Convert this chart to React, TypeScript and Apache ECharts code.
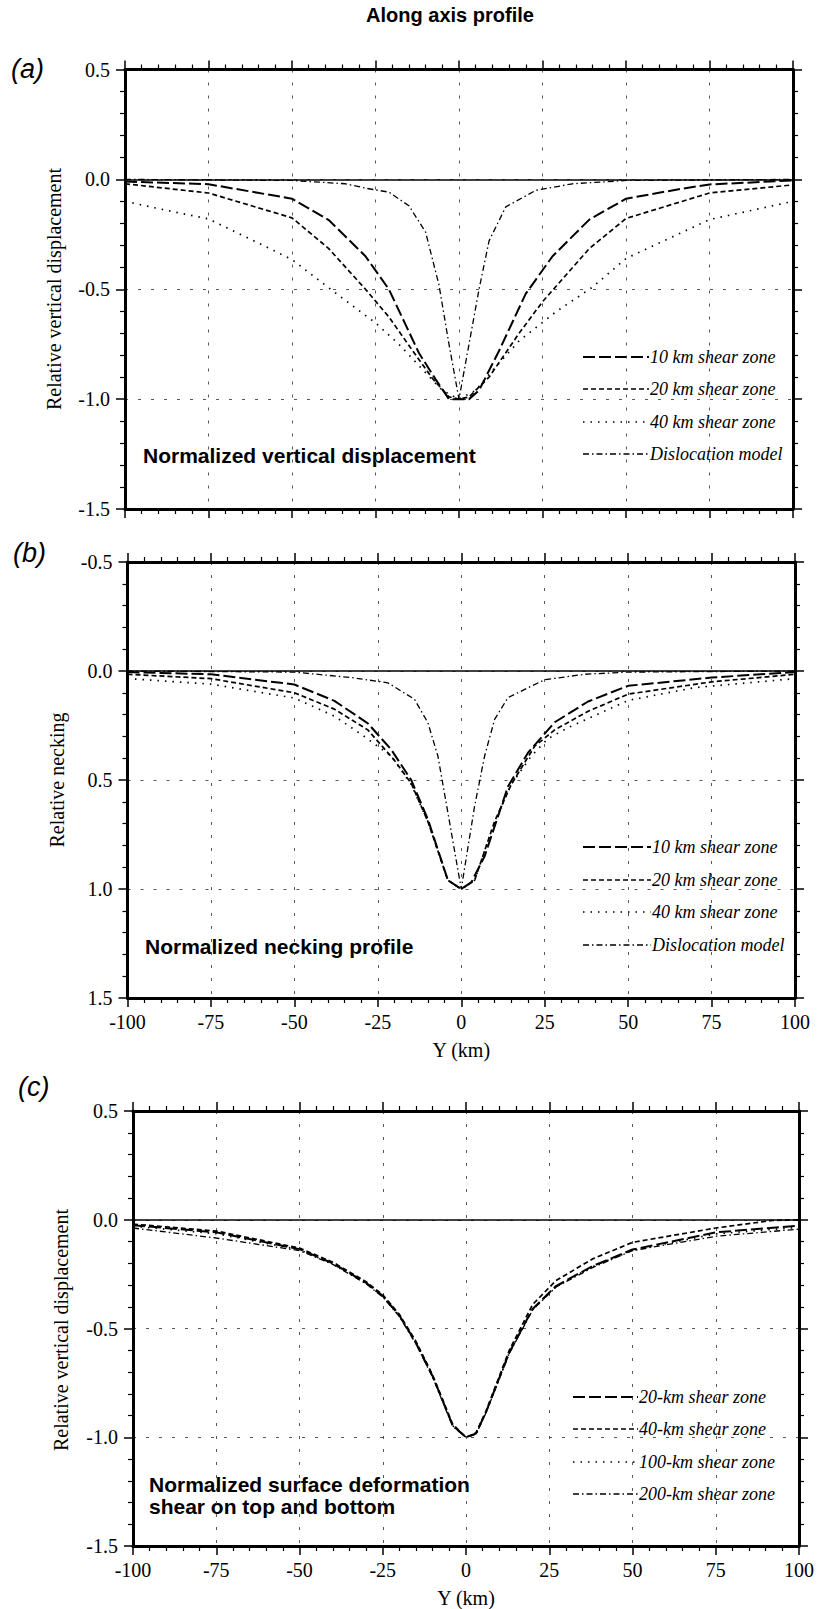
import React, { useEffect, useRef } from 'react';
import * as echarts from 'echarts';

const SERIF = '"Liberation Serif", "Times New Roman", serif';
const SANS = '"Liberation Sans", Arial, sans-serif';

const mainTitle = 'Along axis profile';
const panelLabels = ['(a)', '(b)', '(c)'];
const yNames = ['Relative vertical displacement', 'Relative necking', 'Relative vertical displacement'];
const xName = 'Y (km)';
const innerA = ['Normalized vertical displacement'];
const innerB = ['Normalized necking profile'];
const innerC = ['Normalized surface deformation', 'shear on top and bottom'];

const legendAB = ['10 km shear zone', '20 km shear zone', '40 km shear zone', 'Dislocation model'];
const legendC = ['20-km shear zone', '40-km shear zone', '100-km shear zone', '200-km shear zone'];

// Panel (a): normalized vertical displacement
const a10 = [[-100, -0.01], [-75, -0.022], [-50, -0.088], [-39, -0.185], [-28, -0.35], [-21, -0.5], [-12, -0.79], [-7, -0.91], [-3, -1.0], [3, -1.0], [6, -0.96], [12, -0.78], [20, -0.52], [28, -0.35], [39, -0.183], [50, -0.088], [65, -0.047], [75, -0.023], [100, -0.005]];
const a20 = [[-100, -0.02], [-75, -0.062], [-50, -0.175], [-39, -0.315], [-28, -0.5], [-21, -0.626], [-12, -0.82], [-8, -0.905], [-3, -0.99], [0, -1.0], [3, -0.99], [9, -0.9], [18, -0.7], [25, -0.557], [39, -0.315], [50, -0.178], [75, -0.062], [100, -0.025]];
const a40 = [[-100, -0.1], [-90, -0.133], [-75, -0.18], [-60, -0.29], [-50, -0.365], [-38, -0.505], [-25, -0.653], [-18, -0.75], [-10, -0.88], [-5, -0.96], [0, -1.0], [5, -0.96], [10, -0.87], [18, -0.735], [29, -0.603], [40, -0.49], [50, -0.36], [75, -0.183], [100, -0.1]];
const aDis = [[-100, 0], [-50, -0.005], [-34, -0.02], [-28, -0.04], [-21, -0.058], [-15, -0.12], [-10, -0.24], [-6, -0.48], [-3, -0.75], [0, -1.0], [3, -0.75], [6, -0.5], [9, -0.28], [14, -0.125], [23, -0.05], [34, -0.02], [50, -0.005], [100, 0]];

// Panel (b): normalized necking
const b10 = [[-100, 0.005], [-75, 0.015], [-50, 0.062], [-38, 0.137], [-28, 0.24], [-21, 0.36], [-15, 0.5], [-10, 0.68], [-4, 0.96], [0, 1.0], [3, 0.97], [7, 0.85], [14, 0.53], [20, 0.375], [28, 0.235], [38, 0.14], [50, 0.068], [75, 0.03], [100, 0.005]];
const b20 = [[-100, 0.015], [-75, 0.035], [-50, 0.1], [-38, 0.175], [-28, 0.27], [-20, 0.41], [-15, 0.515], [-10, 0.69], [-4, 0.96], [0, 1.0], [4, 0.96], [10, 0.69], [15, 0.52], [22, 0.345], [28, 0.27], [38, 0.185], [50, 0.106], [75, 0.05], [100, 0.015]];
const b40 = [[-100, 0.035], [-75, 0.06], [-50, 0.124], [-38, 0.207], [-30, 0.29], [-21, 0.39], [-15, 0.52], [-10, 0.69], [-4, 0.96], [0, 1.0], [4, 0.96], [10, 0.69], [15, 0.52], [21, 0.39], [26, 0.31], [32, 0.26], [50, 0.135], [70, 0.076], [100, 0.035]];
const bDis = [[-100, 0], [-50, 0.005], [-33, 0.03], [-22, 0.054], [-14, 0.13], [-10, 0.237], [-7, 0.39], [-4, 0.65], [0, 1.0], [4, 0.62], [7, 0.39], [10, 0.222], [14, 0.122], [20, 0.077], [25, 0.04], [37, 0.015], [50, 0.005], [100, 0]];

// Panel (c): surface deformation, shear on top and bottom
const c20 = [[-100, -0.025], [-75, -0.058], [-50, -0.135], [-40, -0.2], [-30, -0.29], [-25, -0.35], [-20, -0.44], [-15, -0.567], [-10, -0.72], [-4, -0.945], [0, -1.0], [3, -0.983], [6, -0.884], [13, -0.61], [20, -0.41], [27, -0.305], [38, -0.213], [50, -0.137], [75, -0.058], [100, -0.027]];
const c40 = [[-100, -0.02], [-75, -0.052], [-50, -0.13], [-40, -0.195], [-30, -0.285], [-25, -0.345], [-20, -0.435], [-15, -0.56], [-10, -0.715], [-4, -0.94], [0, -1.0], [3, -0.98], [6, -0.88], [13, -0.6], [20, -0.39], [27, -0.28], [38, -0.18], [50, -0.104], [75, -0.038], [92, -0.003], [100, 0.0]];
const c100 = [[-100, -0.03], [-75, -0.064], [-50, -0.138], [-40, -0.202], [-30, -0.292], [-25, -0.352], [-20, -0.442], [-15, -0.57], [-10, -0.722], [-4, -0.947], [0, -1.0], [3, -0.985], [6, -0.886], [13, -0.612], [20, -0.412], [27, -0.307], [38, -0.216], [50, -0.14], [75, -0.065], [100, -0.035]];
const c200 = [[-100, -0.038], [-75, -0.084], [-50, -0.142], [-40, -0.205], [-30, -0.295], [-25, -0.355], [-20, -0.445], [-15, -0.572], [-10, -0.725], [-4, -0.95], [0, -1.0], [3, -0.987], [6, -0.888], [13, -0.615], [20, -0.415], [27, -0.31], [38, -0.22], [50, -0.142], [75, -0.076], [100, -0.043]];

// line styles: [dash pattern, width]
const STY = [
  { dash: [12, 4], width: 2 },
  { dash: [5, 3], width: 1.7 },
  { dash: [1.5, 6], width: 1.7 },
  { dash: [6, 3, 1.5, 3], width: 1.3 },
];

const grids = [
  { left: 125, top: 69.5, width: 668, height: 439.5 },
  { left: 127.5, top: 562, width: 667.5, height: 436 },
  { left: 133, top: 1111, width: 666, height: 437 },
];

const yRanges = [
  { min: -1.5, max: 0.5, inverse: false },
  { min: -0.5, max: 1.5, inverse: true },
  { min: -1.5, max: 0.5, inverse: false },
];

const gridLine = { color: '#444', width: 0.9, type: [3, 10] as number[] };

function buildXAxes(g: number, labels: boolean) {
  const common: any = {
    type: 'value', gridIndex: g, min: -100, max: 100, interval: 25,
    axisLine: { show: true, onZero: false, lineStyle: { color: '#000', width: 3 } },
    axisTick: { show: true, inside: false, length: 9, lineStyle: { color: '#000', width: 1.5 } },
    minorTick: { show: true, splitNumber: 5, length: 5, lineStyle: { color: '#000', width: 1.2 } },
    minorSplitLine: { show: false },
  };
  return [
    {
      ...common, position: 'bottom',
      axisLabel: { show: labels, margin: 14, color: '#000', fontFamily: SERIF, fontSize: 20, formatter: (v: number) => String(v) },
      splitLine: { show: true, showMinLine: false, showMaxLine: false, lineStyle: gridLine },
      name: labels ? xName : '', nameLocation: 'middle', nameGap: 42,
      nameTextStyle: { color: '#000', fontFamily: SERIF, fontSize: 20 },
    },
    { ...common, position: 'top', axisLabel: { show: false }, splitLine: { show: false } },
  ];
}

function buildYAxes(g: number) {
  const r = yRanges[g];
  const common: any = {
    type: 'value', gridIndex: g, min: r.min, max: r.max, interval: 0.5, inverse: r.inverse,
    axisLine: { show: true, onZero: false, lineStyle: { color: '#000', width: 3 } },
    axisTick: { show: true, inside: false, length: 9, lineStyle: { color: '#000', width: 1.5 } },
    minorTick: { show: true, splitNumber: 5, length: 5, lineStyle: { color: '#000', width: 1.2 } },
  };
  return [
    {
      ...common, position: 'left',
      axisLabel: { show: true, margin: 15, color: '#000', fontFamily: SERIF, fontSize: 20, formatter: (v: number) => v.toFixed(1) },
      splitLine: { show: true, showMinLine: false, showMaxLine: false, lineStyle: gridLine },
    },
    { ...common, position: 'right', axisLabel: { show: false }, splitLine: { show: false } },
  ];
}

const panelSeries = [
  { names: legendAB, data: [a10, a20, a40, aDis] },
  { names: legendAB, data: [b10, b20, b40, bDis] },
  { names: legendC, data: [c20, c40, c100, c200] },
];

function buildSeries() {
  const out: any[] = [];
  panelSeries.forEach((p, g) => {
    p.data.forEach((d, i) => {
      const s: any = {
        type: 'line', name: p.names[i] + ' ' + g, xAxisIndex: 2 * g, yAxisIndex: 2 * g,
        data: d, showSymbol: false, symbol: 'none', smooth: false, silent: true, z: 3,
        lineStyle: { color: '#000', width: STY[i].width, type: STY[i].dash },
      };
      if (i === 0) {
        s.markLine = {
          silent: true, symbol: ['none', 'none'], label: { show: false },
          lineStyle: { color: '#000', width: 1.6, type: 'solid' },
          data: [{ yAxis: 0 }],
        };
      }
      out.push(s);
    });
  });
  return out;
}

const legendPos = [
  { x1: 583, x2: 649, ys: [357, 389, 422, 454], names: legendAB },
  { x1: 583, x2: 651, ys: [847, 880, 912, 945], names: legendAB },
  { x1: 573, x2: 638, ys: [1397, 1429, 1462, 1494], names: legendC },
];

function buildGraphics() {
  const els: any[] = [];
  els.push({
    type: 'text', x: 450, y: 15,
    style: { text: mainTitle, font: `bold 20px ${SANS}`, fill: '#000', textAlign: 'center', textVerticalAlign: 'middle', align: 'center', verticalAlign: 'middle' },
  });
  const labelPos = [[11, 69], [13, 553], [18, 1087]];
  panelLabels.forEach((t, i) => {
    els.push({
      type: 'text', x: labelPos[i][0], y: labelPos[i][1],
      style: { text: t, font: `italic 27px ${SANS}`, fill: '#000', textAlign: 'left', textVerticalAlign: 'middle', align: 'left', verticalAlign: 'middle' },
    });
  });
  const yNamePos = [[54, 289], [57, 780], [61, 1330]];
  yNames.forEach((t, i) => {
    els.push({
      type: 'text', x: yNamePos[i][0], y: yNamePos[i][1], rotation: Math.PI / 2,
      style: { text: t, font: `20px ${SERIF}`, fill: '#000', textAlign: 'center', textVerticalAlign: 'middle', align: 'center', verticalAlign: 'middle' },
    });
  });
  const inner = [
    { lines: innerA, x: 143, y: 455 },
    { lines: innerB, x: 145, y: 946 },
    { lines: innerC, x: 149, y: 1484 },
  ];
  inner.forEach((b) => {
    b.lines.forEach((t, k) => {
      els.push({
        type: 'text', x: b.x, y: b.y + k * 22,
        style: { text: t, font: `bold 21px ${SANS}`, fill: '#000', textAlign: 'left', textVerticalAlign: 'middle', align: 'left', verticalAlign: 'middle' },
      });
    });
  });
  legendPos.forEach((lp) => {
    lp.names.forEach((n, i) => {
      els.push({
        type: 'line', silent: true,
        shape: { x1: lp.x1, y1: lp.ys[i], x2: lp.x2, y2: lp.ys[i] },
        style: { stroke: '#000', lineWidth: STY[i].width, lineDash: STY[i].dash },
      });
      els.push({
        type: 'text', x: lp.x2 + 1, y: lp.ys[i],
        style: { text: n, font: `italic 18px ${SERIF}`, fill: '#000', textAlign: 'left', textVerticalAlign: 'middle', align: 'left', verticalAlign: 'middle' },
      });
    });
  });
  return els;
}

export default function App() {
  const ref = useRef<HTMLDivElement>(null);
  useEffect(() => {
    if (!ref.current) return;
    const chart = echarts.init(ref.current, null, { renderer: 'svg' });
    const xAxis: any[] = [];
    const yAxis: any[] = [];
    grids.forEach((_, g) => {
      xAxis.push(...buildXAxes(g, g > 0));
      yAxis.push(...buildYAxes(g));
    });
    chart.setOption({
      animation: false,
      backgroundColor: '#fff',
      grid: grids.map((gr) => ({ ...gr, containLabel: false })),
      xAxis,
      yAxis,
      series: buildSeries(),
      graphic: buildGraphics(),
    });
    return () => chart.dispose();
  }, []);
  return (
    <div
      ref={ref}
      style={{ position: 'absolute', left: 0, top: 0, width: 818, height: 1609, background: '#fff' }}
    />
  );
}
